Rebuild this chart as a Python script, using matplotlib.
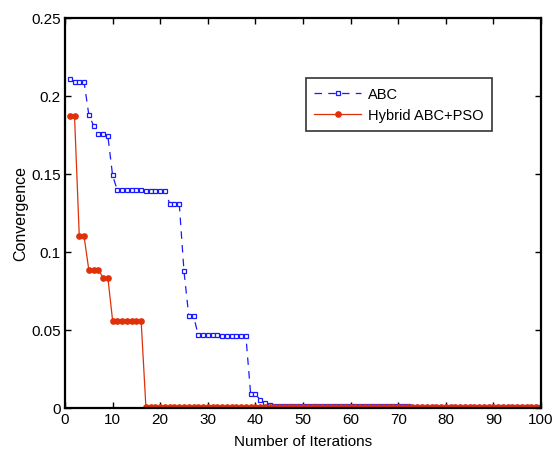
import numpy as np
import matplotlib
matplotlib.use("Agg")
from matplotlib import pyplot as plt

plt.rcParams['font.family'] = ['Liberation Sans', 'DejaVu Sans']

iterations = list(range(1, 101))

# ABC convergence
abc = ([0.211, 0.209, 0.209, 0.209, 0.188, 0.181, 0.1755, 0.1755, 0.1745, 0.149]
       + [0.1395] * 6 + [0.139] * 5
       + [0.1310, 0.1310, 0.1310, 0.0875, 0.0590, 0.0590]
       + [0.0465] * 5 + [0.0460] * 6
       + [0.0090, 0.0090, 0.0050, 0.0028, 0.0015]
       + [0.0014] * 29
       + [0.0006] * 28)

# Hybrid ABC+PSO convergence
hybrid = ([0.187, 0.187, 0.110, 0.110, 0.0885, 0.0885, 0.0885, 0.0835, 0.0835]
          + [0.0560] * 4 + [0.0555] * 3
          + [0.0003] * 84)

fig = plt.figure(figsize=(5.58, 4.52), dpi=100)
ax = fig.add_axes([0.1165, 0.0955, 0.853, 0.8625])

ax.plot(iterations, abc, color='#1a1aff', linestyle=(0, (6, 5)), linewidth=0.9,
        marker='s', markersize=3.3, markerfacecolor='white', markeredgecolor='#1a1aff',
        markeredgewidth=0.9, label='ABC')
ax.plot(iterations, hybrid, color='#e0300a', linestyle='-', linewidth=0.9,
        marker='o', markersize=3.8, markerfacecolor='#e0300a', markeredgecolor='#e0300a',
        label='Hybrid ABC+PSO')

ax.set_xlim(0, 100)
ax.set_ylim(0, 0.25)
ax.set_xticks(np.arange(0, 101, 10))
ax.set_yticks([0, 0.05, 0.1, 0.15, 0.2, 0.25])
ax.set_yticklabels(['0', '0.05', '0.1', '0.15', '0.2', '0.25'])
ax.tick_params(direction='in', length=4, width=1, labelsize=11, top=True, right=True,
               pad=3)
for side in ax.spines.values():
    side.set_linewidth(1.6)

ax.set_xlabel('Number of Iterations', fontsize=11, labelpad=6)
ax.set_ylabel('Convergence', fontsize=11.5, labelpad=2)

leg = ax.legend(loc='upper left', bbox_to_anchor=(0.49, 0.864), fontsize=10.5,
                frameon=True, fancybox=False, edgecolor='black', handlelength=3.2,
                borderpad=0.6, labelspacing=0.5, handletextpad=0.5)
leg.get_frame().set_linewidth(1.2)

fig.savefig('out.png', dpi=100)
